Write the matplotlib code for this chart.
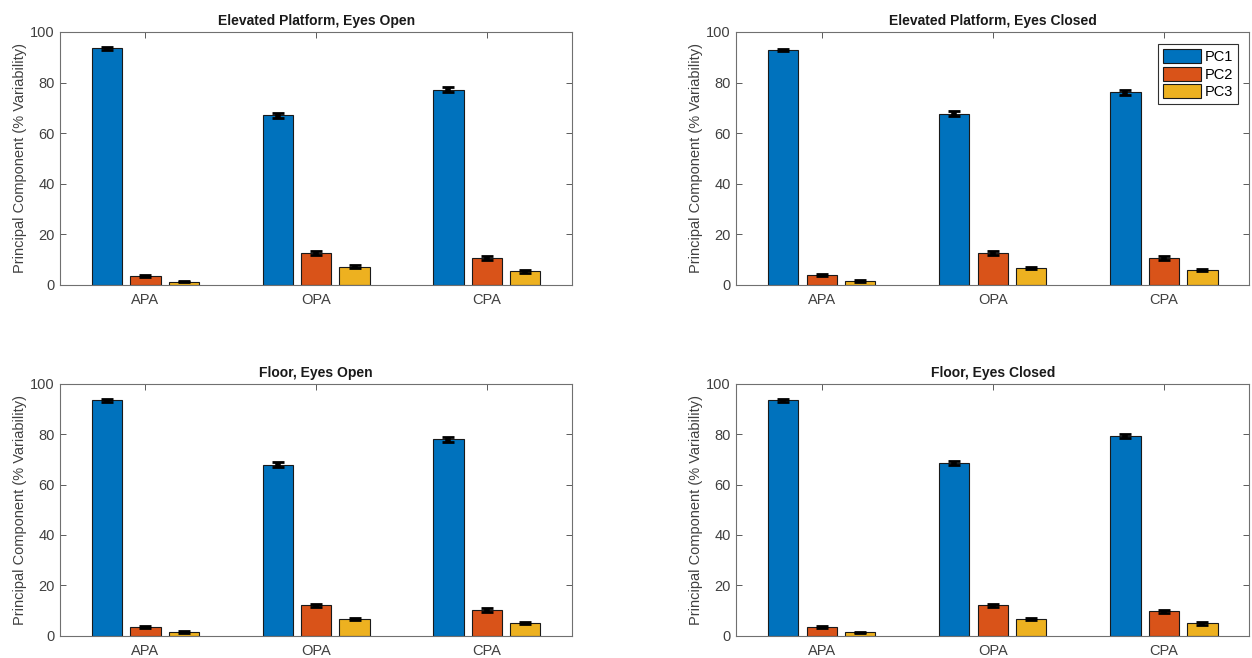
import numpy as np
import matplotlib.pyplot as plt

plt.rcParams['font.family'] = ['Liberation Sans', 'DejaVu Sans']

groups = ['APA', 'OPA', 'CPA']
components = ['PC1', 'PC2', 'PC3']
titles = ['Elevated Platform, Eyes Open', 'Elevated Platform, Eyes Closed',
          'Floor, Eyes Open', 'Floor, Eyes Closed']

# mean % variability, rows = PC1..PC3, cols = APA, OPA, CPA
ep_open = [[93.5, 67.0, 77.2], [3.6, 12.8, 10.6], [1.3, 7.1, 5.4]]
ep_closed = [[92.9, 67.6, 76.2], [3.8, 12.5, 10.6], [1.6, 6.7, 5.8]]
fl_open = [[93.5, 67.9, 78.0], [3.5, 12.0, 10.2], [1.5, 6.6, 5.1]]
fl_closed = [[93.6, 68.5, 79.3], [3.5, 12.1, 9.6], [1.3, 6.7, 4.9]]

# standard error
ep_open_err = [[0.6, 0.9, 0.9], [0.5, 0.8, 0.8], [0.3, 0.6, 0.5]]
ep_closed_err = [[0.5, 1.0, 1.0], [0.4, 0.8, 0.8], [0.4, 0.5, 0.4]]
fl_open_err = [[0.5, 1.0, 1.0], [0.5, 0.6, 0.7], [0.3, 0.5, 0.5]]
fl_closed_err = [[0.6, 0.8, 0.9], [0.5, 0.6, 0.5], [0.3, 0.5, 0.5]]

datasets = [ep_open, ep_closed, fl_open, fl_closed]
errors = [ep_open_err, ep_closed_err, fl_open_err, fl_closed_err]

colors = ['#0072BD', '#D95319', '#EDB120']
axcol = '#404040'

fig = plt.figure(figsize=(12.52, 6.58), dpi=100)
positions = [[0.048, 0.567, 0.409, 0.3845],
             [0.588, 0.567, 0.410, 0.3845],
             [0.048, 0.034, 0.409, 0.3825],
             [0.588, 0.034, 0.410, 0.3825]]

x = np.arange(1, len(groups) + 1)
width = 0.177
offset = 0.225

for i, pos in enumerate(positions):
    ax = fig.add_axes(pos)
    vals = np.array(datasets[i])
    errs = np.array(errors[i])
    for k in range(len(components)):
        xs = x + (k - 1) * offset
        ax.bar(xs, vals[k], width, color=colors[k], edgecolor='#1a1a1a',
               linewidth=0.8, label=components[k], zorder=2)
        ax.errorbar(xs, vals[k], yerr=errs[k], fmt='none', ecolor='black',
                    elinewidth=4, capsize=4, capthick=2, zorder=3)

    ax.set_xlim(0.5, 3.5)
    ax.set_ylim(0, 100)
    ax.set_xticks(x)
    ax.set_xticklabels(groups)
    ax.set_yticks([0, 20, 40, 60, 80, 100])
    ax.tick_params(direction='in', length=4, width=0.6, colors=axcol,
                   labelsize=10.5, top=True, right=True, pad=6)
    ax.tick_params(axis='y', pad=4)
    for sp in ax.spines.values():
        sp.set_color('#707070')
        sp.set_linewidth(0.8)
    ax.set_ylabel('Principal Component (% Variability)', fontsize=10.5,
                  color=axcol, labelpad=2)
    ax.set_title(titles[i], fontsize=10, fontweight='bold', color='#1a1a1a', pad=5)

    if i == 1:
        leg = ax.legend(loc='upper right', fontsize=10.5, handlelength=2.6,
                        handleheight=1.1, handletextpad=0.25, borderpad=0.35,
                        labelspacing=0.2, fancybox=False, framealpha=1,
                        borderaxespad=0.8)
        leg.get_frame().set_edgecolor('#303030')
        leg.get_frame().set_linewidth(0.8)

fig.savefig('out.png', dpi=100)
